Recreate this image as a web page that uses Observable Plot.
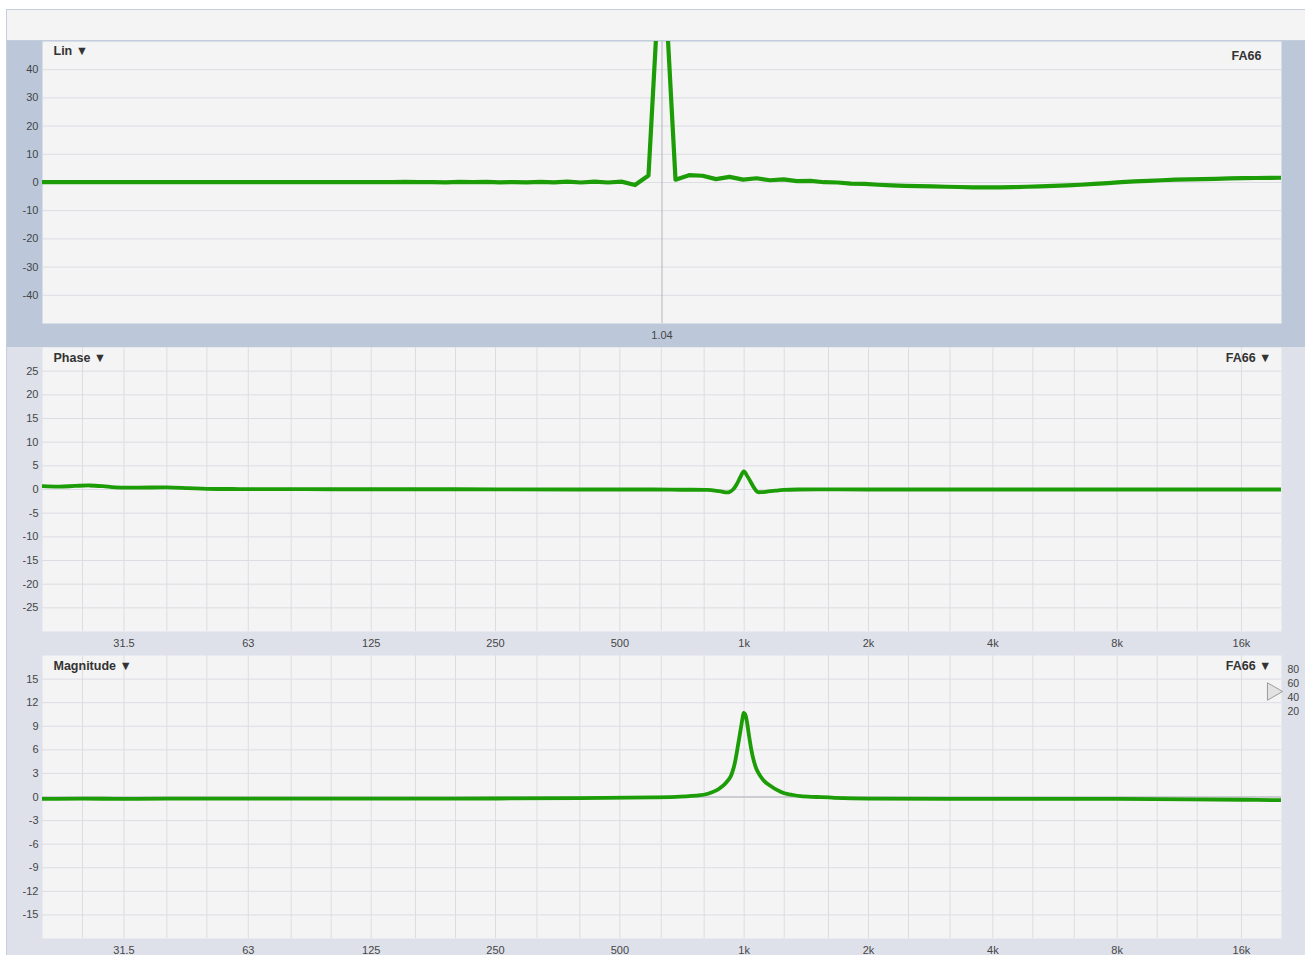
<!DOCTYPE html>
<html>
<head>
<meta charset="utf-8">
<script src="https://cdn.jsdelivr.net/npm/d3@7"></script>
<script src="https://cdn.jsdelivr.net/npm/@observablehq/plot@0.6"></script>
<style>
  html, body { margin: 0; padding: 0; background: #ffffff; }
  #analyzer {
    position: absolute; left: 6px; top: 9px; width: 1298px;
    border-left: 1px solid #c6cedb; border-top: 1px solid #c6cedb;
    font-family: "Liberation Sans", Arial, Helvetica, sans-serif;
  }
  #titlebar { height: 30px; background: #f4f4f4; border-bottom: 1px solid #c3cddc; }
  #analyzer svg { display: block; }
</style>
</head>
<body>
<div id="analyzer">
  <div id="titlebar"></div>
  <div id="lin"></div>
  <div id="phase"></div>
  <div id="magnitude"></div>
</div>
<script>
// ---- impulse response (linear amplitude, %), one value per sample ----
const linSampleRateKHz = 44.1;   // samples per millisecond
const linPeakMs = 1.04;          // time of the main peak
const linPeakIndex = 46;         // position of the peak in linValues
const linValues = [
  0.1, 0.1, 0.1, 0.1, 0.1, 0.1, 0.1, 0.1, 0.1, 0.1,
  0.1, 0.1, 0.1, 0.1, 0.1, 0.1, 0.1, 0.1, 0.12, 0.1,
  0.12, 0.1, 0.12, 0.15, 0.1, 0.15, 0.1, 0.2, 0.1, 0.15,
  0.05, 0.2, 0.1, 0.2, 0.05, 0.15, 0.05, 0.2, 0.05, 0.3,
  0.0, 0.3, 0.0, 0.3, -0.9, 2.5,
  90,
  1.0, 2.6, 2.4, 1.2, 2.0, 1.0, 1.5, 0.8, 1.1, 0.5,
  0.6, 0.1, 0.0, -0.4, -0.5, -0.8, -1.0, -1.2, -1.3, -1.4,
  -1.5, -1.6, -1.7, -1.75, -1.7, -1.65, -1.5, -1.4, -1.2, -1.0,
  -0.8, -0.5, -0.2, 0.1, 0.4, 0.6, 0.8, 1.0, 1.1, 1.2,
  1.3, 1.45, 1.55, 1.6, 1.65, 1.7
];
const linYTicks = [-40, -30, -20, -10, 0, 10, 20, 30, 40];

// ---- phase (degrees) against frequency (Hz) ----
const phaseFreq = [20, 22, 24, 26, 28, 30, 34, 40, 45, 50, 60, 80, 100, 200, 400, 600, 700, 814, 870, 917, 940, 962, 980, 998, 1018, 1037, 1056, 1076, 1105, 1135, 1190, 1244, 1350, 2000, 5000, 20000];
const phaseDeg  = [0.7, 0.6, 0.75, 0.85, 0.7, 0.45, 0.4, 0.45, 0.3, 0.15, 0.1, 0.1, 0.05, 0.05, 0.0, 0.0, -0.05, -0.1, -0.35, -0.6, 0.0, 1.3, 2.7, 3.8, 2.8, 1.6, 0.4, -0.5, -0.55, -0.45, -0.25, -0.1, 0.0, 0.0, 0.0, 0.0];
const phaseYTicks = [-25, -20, -15, -10, -5, 0, 5, 10, 15, 20, 25];

// ---- magnitude (dB) against frequency (Hz) ----
const magFreq = [20, 25, 31.5, 40, 63, 100, 200, 400, 600, 700, 785, 807, 830, 861, 877, 892, 910, 927, 944, 954, 967, 980, 990, 998, 1006, 1016, 1026, 1040, 1054, 1070, 1093, 1120, 1159, 1200, 1246, 1300, 1370, 1500, 1657, 2000, 4000, 8000, 12000, 16000, 20000];
const magDb   = [-0.25, -0.2, -0.25, -0.2, -0.2, -0.2, -0.2, -0.15, -0.05, 0.05, 0.25, 0.35, 0.55, 0.9, 1.2, 1.5, 2.0, 2.6, 3.8, 4.9, 6.7, 8.5, 9.9, 10.7, 10.5, 9.5, 8.0, 6.1, 4.7, 3.6, 2.7, 2.0, 1.4, 0.9, 0.5, 0.3, 0.1, 0.0, -0.1, -0.2, -0.25, -0.25, -0.3, -0.35, -0.4];
const magYTicks = [-15, -12, -9, -6, -3, 0, 3, 6, 9, 12, 15];

// ---- frequency axis ----
const freqTicks = [31.5, 63, 125, 250, 500, 1000, 2000, 4000, 8000, 16000];
const freqTickLabels = ["31.5", "63", "125", "250", "500", "1k", "2k", "4k", "8k", "16k"];
const thirdOctaveGrid = [25, 31.5, 40, 50, 63, 80, 100, 125, 160, 200, 250, 315, 400, 500, 630, 800, 1000, 1250, 1600, 2000, 2500, 3150, 4000, 5000, 6300, 8000, 10000, 12500, 16000];
const levelScale = ["80", "60", "40", "20"];

const traceName = "FA66";
const green = "#1c9c06";
const gridColor = "#dcdde3";
const plotFill = "#f4f4f4";
const labelColor = "#454545";

// tables for the marks
const linData = linValues.map((v, i) => ({t: linPeakMs + (i - linPeakIndex) / linSampleRateKHz, v}));
const phaseData = phaseFreq.map((f, i) => ({f, v: phaseDeg[i]}));
const magData = magFreq.map((f, i) => ({f, v: magDb[i]}));
const freqAxis = freqTicks.map((f, i) => ({f, label: freqTickLabels[i]}));

const common = {
  width: 1298,
  marginLeft: 35,
  marginRight: 24,
  marginTop: 0,
  marginBottom: 24
};
const fontStyle = {fontFamily: "'Liberation Sans', Arial, Helvetica, sans-serif", fontSize: "11px", color: labelColor, overflow: "visible"};
// the menu triangles come from the CJK face, which draws a fuller glyph
const titleFont = "'Liberation Sans', Arial, 'Noto Sans CJK JP', sans-serif";

function titleMark(text, dy) {
  return Plot.text([text], {frameAnchor: "top-left", dx: 11, dy, lineAnchor: "middle", textAnchor: "start",
    fontWeight: "bold", fontSize: 12.5, fontFamily: titleFont, fill: "#333333"});
}
function traceMark(text, dx, dy) {
  return Plot.text([text], {frameAnchor: "top-right", dx, dy, lineAnchor: "middle", textAnchor: "end",
    fontWeight: "bold", fontSize: 12.5, fontFamily: titleFont, fill: "#333333"});
}
// value labels on the left, printed with a plain hyphen for negatives
function yLabels(ticks) {
  return Plot.axisY(ticks, {tickSize: 0, tickPadding: 4, label: null, fill: labelColor, tickFormat: d => String(d)});
}

// Lin: impulse response over time
const lin = Plot.plot({
  ...common,
  height: 306,
  style: {...fontStyle, background: "#bcc8da"},
  x: {type: "linear", domain: [0, 2.08], label: null, axis: null},
  y: {domain: [-50, 50], label: null},
  marks: [
    Plot.frame({fill: plotFill, stroke: null}),
    Plot.gridY(linYTicks, {stroke: gridColor, strokeOpacity: 1, strokeWidth: 1}),
    Plot.ruleX([linPeakMs], {stroke: "#b4b6bd", strokeWidth: 1}),
    Plot.line(linData, {x: "t", y: "v", stroke: green, strokeWidth: 4.2, strokeLinejoin: "round", clip: true}),
    yLabels(linYTicks),
    Plot.text([linPeakMs], {x: d => d, frameAnchor: "bottom", dy: 12, lineAnchor: "middle", text: d => d.toFixed(2), fill: labelColor, fontSize: 11}),
    titleMark("Lin ▼", 9),
    traceMark(traceName, -20, 14)
  ]
});
document.getElementById("lin").append(lin);

function freqPanel({data, yDomain, yTicks, height, title, extra = [], zeroRule = false}) {
  return Plot.plot({
    ...common,
    height,
    style: {...fontStyle, background: "#dee1ea"},
    x: {type: "log", domain: [20, 20000], label: null, axis: null},
    y: {domain: yDomain, label: null},
    marks: [
      Plot.frame({fill: plotFill, stroke: null}),
      Plot.gridX(thirdOctaveGrid, {stroke: gridColor, strokeOpacity: 1, strokeWidth: 1}),
      Plot.gridY(yTicks, {stroke: gridColor, strokeOpacity: 1, strokeWidth: 1}),
      zeroRule ? Plot.ruleY([0], {stroke: "#c2c3c9", strokeWidth: 1.5}) : null,
      Plot.line(data, {x: "f", y: "v", stroke: green, strokeWidth: 3.8, strokeLinejoin: "round", curve: "catmull-rom", clip: true}),
      yLabels(yTicks),
      Plot.text(freqAxis, {x: "f", text: "label", frameAnchor: "bottom", dy: 12, lineAnchor: "middle", fill: labelColor, fontSize: 11}),
      titleMark(title, 10),
      traceMark(traceName + " ▼", -10, 10),
      ...extra
    ]
  });
}

document.getElementById("phase").append(freqPanel({
  data: phaseData, yDomain: [-30, 30], yTicks: phaseYTicks, height: 308, title: "Phase ▼"
}));

const levelMarks = levelScale.map((s, i) =>
  Plot.text([s], {frameAnchor: "top-right", dx: 6, dy: 14 + 14 * i, textAnchor: "start", lineAnchor: "middle", fontSize: 10.5, fill: labelColor})
);
levelMarks.push(Plot.dot([0], {frameAnchor: "top-right", dx: -9, dy: 36, symbol: "triangle", rotate: 90, r: 6.5,
  fill: "#e2e2e2", stroke: "#9c9c9c", strokeWidth: 1}));

document.getElementById("magnitude").append(freqPanel({
  data: magData, yDomain: [-18, 18], yTicks: magYTicks, height: 307, title: "Magnitude ▼",
  extra: levelMarks, zeroRule: true
}));
</script>
</body>
</html>
